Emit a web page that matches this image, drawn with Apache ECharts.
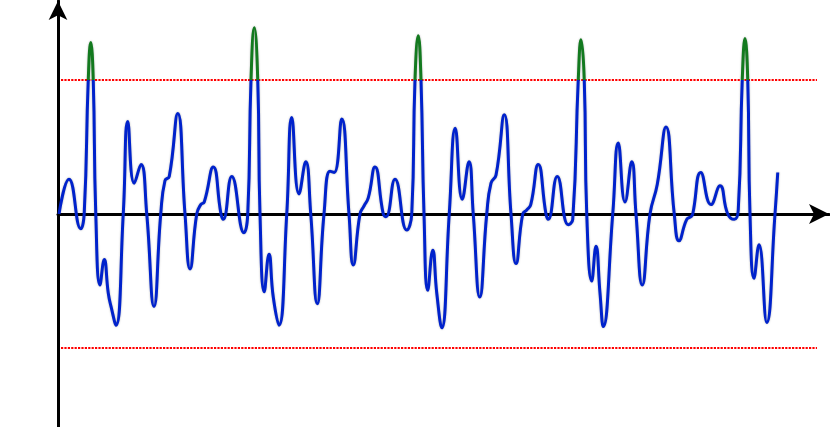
<!DOCTYPE html>
<html>
<head>
<meta charset="utf-8">
<script src="https://cdn.jsdelivr.net/npm/echarts@6/dist/echarts.min.js"></script>
<style>html,body{margin:0;padding:0;background:#fff}#c{width:830px;height:427px}</style>
</head>
<body>
<div id="c"></div>
<script>
// time in ms, amplitude in mV
var timeMs = [4,44,91,105,121,131,141,151,168,185,201,212,232,261,279,305,332,355,384,411,428,445,479,508,528,555,571,585,621,652,661,
695,744,759,772,785,799,808,825,844,861,884,915,935,964,991,1011,1037,1064,1088,1105,1135,1164,1181,1208,1224,1241,1268,1301,1312,
1348,1395,1415,1428,1441,1452,1464,1479,1499,1515,1535,1565,1589,1617,1644,1661,1687,1715,1732,1752,1785,1812,1832,1859,1875,1891,1921,1952,1961,
1997,2041,2059,2081,2092,2105,2115,2135,2152,2168,2181,2219,2241,2268,2295,2312,2337,2368,2397,2432,2465,2484,2515,2532,2539,2571,2612,2648,2679,2705,2721,
2737,2748,2759,2768,2784,2804,2835,2868,2879];
var voltage = [0.00,0.26,-0.11,0.01,1.0,1.28,1.0,0.01,-0.53,-0.34,-0.59,-0.69,-0.83,0,0.69,0.23,0.37,0,-0.69,0,0.25,0.28,0.75,0,-0.41,0,0.07,0.09,0.35,0,-0.04,
0.28,-0.14,0,1.0,1.39,1.0,0,-0.58,-0.30,-0.62,-0.83,0,0.72,0.15,0.39,0,-0.67,0,0.32,0.31,0.71,0,-0.38,0,0.06,0.12,0.35,0,-0.02,
0.26,-0.12,0,1.0,1.33,1.0,0,-0.57,-0.27,-0.59,-0.85,0,0.64,0.11,0.39,0,-0.62,0,0.23,0.29,0.74,0,-0.37,0,0.03,0.07,0.37,0,-0.04,
0.28,-0.08,-0.04,1.0,1.30,1.0,0,-0.50,-0.24,-0.59,-0.84,0,0.53,0.09,0.39,0,-0.53,0,0.22,0.65,0,-0.20,-0.04,-0.02,0,0.31,0.07,0.21,0,-0.04,0.03,
1.0,1.31,1.0,0,-0.48,-0.23,-0.81,0,0.31];
var threshold = 1.0;
var thresholdSpanMs = [12, 3036];
var yRange = [-1.59, 1.59];
var xRange = [0, 3084];

var GREEN = '#137a1f', BLUE = '#0022cc';
var signal = timeMs.map(function(t, i){ return [t, voltage[i]]; });
var upper = thresholdSpanMs.map(function(t){ return [t, threshold]; });
var lower = thresholdSpanMs.map(function(t){ return [t, -threshold]; });

var chart = echarts.init(document.getElementById('c'), null, {renderer:'canvas'});
var axisLineStyle = {color:'#000', width:3};
chart.setOption({
  animation:false,
  grid:{left:58, right:1, top:1, bottom:0, containLabel:false},
  xAxis:{type:'value', min:xRange[0], max:xRange[1],
    axisLine:{show:true, onZero:true, symbol:['none','arrow'], symbolSize:[15,20], lineStyle:axisLineStyle},
    axisTick:{show:false}, axisLabel:{show:false}, splitLine:{show:false}},
  yAxis:{type:'value', min:yRange[0], max:yRange[1],
    axisLine:{show:true, onZero:true, symbol:['none','arrow'], symbolSize:[14,19], lineStyle:axisLineStyle},
    axisTick:{show:false}, axisLabel:{show:false}, splitLine:{show:false}},
  series:[
    {id:'sig', type:'line', data:signal, smooth:0.5, showSymbol:false, z:3,
      lineStyle:{width:3, color:BLUE, shadowColor:'rgba(0,0,0,0.3)', shadowBlur:2}},
    {type:'line', data:upper, showSymbol:false, z:2, silent:true,
      lineStyle:{color:'#ff0000', width:2, type:[2.2,1.2]}},
    {type:'line', data:lower, showSymbol:false, z:2, silent:true,
      lineStyle:{color:'#ff0000', width:2, type:[2.2,1.2]}}
  ]
});
// colour the part of the trace above the threshold green
var H = chart.getHeight();
var ty = chart.convertToPixel({gridIndex:0}, [0, threshold])[1];
var f = ty / H;
chart.setOption({series:[{id:'sig', lineStyle:{color:new echarts.graphic.LinearGradient(0, 0, 0, H, [
  {offset:0, color:GREEN}, {offset:f, color:GREEN}, {offset:f, color:BLUE}, {offset:1, color:BLUE}], true)}}]});
</script>
</body>
</html>
